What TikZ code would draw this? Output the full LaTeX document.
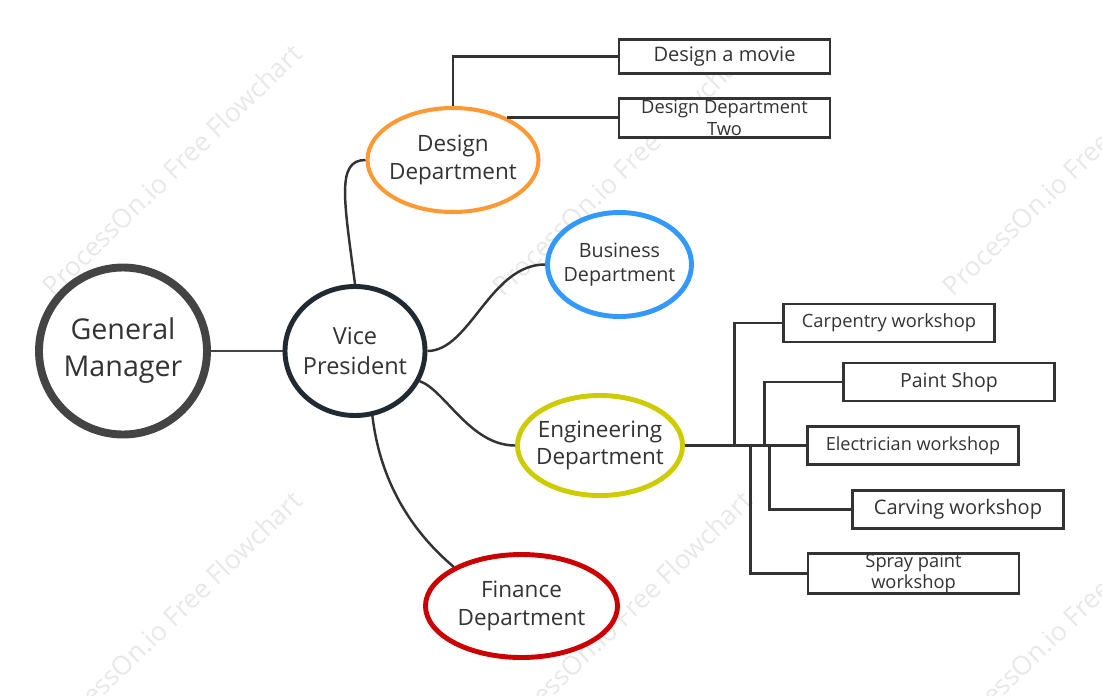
\documentclass[tikz,border=0pt]{standalone}
\usepackage{fontspec}
\setmainfont{Open Sans}
\usepackage{xcolor}
\usetikzlibrary{shapes.geometric}

\definecolor{inkdark}{HTML}{333333}
\definecolor{gmgray}{HTML}{444444}
\definecolor{vpnavy}{HTML}{1F2A33}
\definecolor{designorange}{HTML}{FF9933}
\definecolor{businessblue}{HTML}{3399FF}
\definecolor{engyellow}{HTML}{CCCC00}
\definecolor{financered}{HTML}{CC0000}
\definecolor{wmgray}{HTML}{E8E8E8}

\newcommand{\pxu}{0.02cm}
\newcommand{\fsz}[2]{\fontsize{#1}{#2}\selectfont}

\begin{document}
\begin{tikzpicture}[x=\pxu, y=-\pxu,
  bubble/.style={ellipse, fill=white, inner ysep=0pt, inner xsep=-14*\pxu, align=center, text=inkdark},
  leafbox/.style={rectangle, draw=inkdark, line width=1.5pt, fill=white, inner sep=0pt,
    minimum width=211*\pxu, minimum height=38*\pxu, align=center, text=inkdark},
  link/.style={draw=inkdark, line width=1.4pt},
  watermark/.style={rotate=44, text=wmgray, font=\fsz{15}{18}}]
\useasboundingbox (0,0) rectangle (1102,696);
% watermarks
\foreach \wx/\wy [count=\n] in {172/170,622/170,1072/170,172/617,622/617,1072/617}
  \node[watermark] (wm\n) at (\wx,\wy) {ProcessOn.io Free Flowchart};
% root and vice president
\node[bubble, draw=gmgray, line width=4.5pt, minimum width=168*\pxu, minimum height=167*\pxu,
  font=\fsz{16.3}{21}] (gm) at (123,351) {General\\Manager};
\node[bubble, draw=vpnavy, line width=2.8pt, minimum width=140*\pxu, minimum height=129*\pxu,
  font=\fsz{13.4}{17}] (vp) at (355,351) {Vice\\President};
% departments
\node[bubble, draw=designorange, line width=2.3pt, minimum width=171*\pxu, minimum height=104*\pxu,
  font=\fsz{12.8}{15.5}] (design) at (453,160) {Design\\Department};
\node[bubble, draw=businessblue, line width=2.8pt, minimum width=144*\pxu, minimum height=104*\pxu,
  font=\fsz{11.2}{13.6}] (business) at (619.5,264.5) {Business\\Department};
\node[bubble, draw=engyellow, line width=2.8pt, minimum width=165*\pxu, minimum height=100*\pxu,
  font=\fsz{12.8}{15.8}] (eng) at (600,445.5) {Engineering\\Department};
\node[bubble, draw=financered, line width=2.8pt, minimum width=192*\pxu, minimum height=103*\pxu,
  font=\fsz{12.8}{15.8}] (finance) at (521.5,606) {Finance\\Department};
% design boxes
\node[leafbox, minimum height=34*\pxu, font=\fsz{11.4}{13}] (movie) at (724.5,56.5) {Design a movie};
\node[leafbox, minimum height=39*\pxu, font=\fsz{10.4}{12.6}] (designtwo) at (724.5,118) {Design Department\\Two};
% workshops
\node[leafbox, font=\fsz{10.4}{12.5}] (carpentry) at (889,323) {Carpentry workshop};
\node[leafbox, font=\fsz{11.1}{13}] (paint) at (949,382) {Paint Shop};
\node[leafbox, font=\fsz{10.3}{12.5}] (electrician) at (913,445.5) {Electrician workshop};
\node[leafbox, font=\fsz{11.4}{13}] (carving) at (958,509.5) {Carving workshop};
\node[leafbox, font=\fsz{10.4}{12.4}] (spray) at (913.5,573.5) {Spray paint\\workshop};
% links from the top
\draw[link, draw=gmgray, line width=1.2pt] (gm.east) -- (vp.west);
\draw[link] (vp.north) .. controls (344,200) and (336,160) .. (design.west);
\draw[link] (vp.east) .. controls (470,351) and (490,264.5) .. (business.west);
\draw[link] (vp.-25) .. controls (445,390) and (470,445.5) .. (eng.west);
\draw[link] (vp.-75) .. controls (380,480) and (410,530) .. (finance.150);
% design branches
\draw[link] (design.north) |- (movie.west);
\draw[link] (design.38) -- (design.38 -| designtwo.west);
% engineering branches
\draw[link] (eng.east) -- (electrician.west);
\draw[link] (eng.east) -- ++(49.5,0) |- (carpentry.west);
\draw[link] (eng.east) -- ++(79.5,0) |- (paint.west);
\draw[link] (eng.east) -- ++(84.5,0) |- (carving.west);
\draw[link] (eng.east) -- ++(65.5,0) |- (spray.west);
\end{tikzpicture}
\end{document}
